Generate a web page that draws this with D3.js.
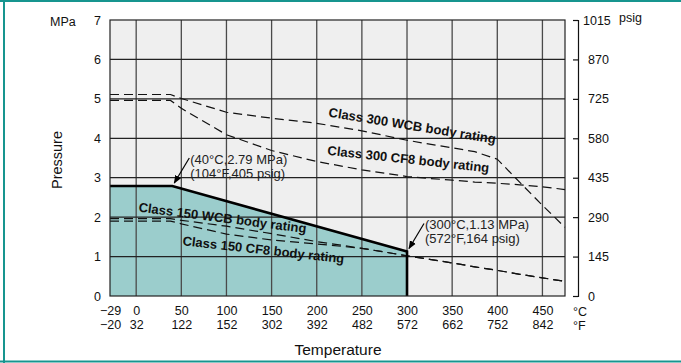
<!DOCTYPE html>
<html><head><meta charset="utf-8">
<script src="https://cdn.jsdelivr.net/npm/d3@7"></script>
<style>
body{margin:0;background:#fff;}
text{font-family:"Liberation Sans",Arial,Helvetica,sans-serif;}
</style></head>
<body>
<svg id="chart" width="681" height="363"></svg>
<script>
// ---- data ----
const tempC = [-29, 38, 50, 100, 150, 200, 250, 300, 325, 350, 375, 400, 425, 450, 475];
const class300WCB = [5.11, 5.11, 5.01, 4.66, 4.51, 4.38, 4.19, 3.95, 3.85, 3.76, 3.66, 3.47, 2.88, 2.30, 1.74];
const class300CF8 = [4.96, 4.96, 4.76, 4.09, 3.69, 3.41, 3.20, 3.03, 2.98, 2.94, 2.89, 2.86, 2.82, 2.77, 2.70];
const class150WCB = [1.96, 1.96, 1.92, 1.77, 1.58, 1.38, 1.21, 1.02, 0.93, 0.84, 0.74, 0.65, 0.55, 0.46, 0.37];
const class150CF8 = [1.90, 1.90, 1.83, 1.57, 1.42, 1.32, 1.21, 1.02, 0.93, 0.84, 0.74, 0.65, 0.55, 0.46, 0.37];
const valveTemp = [-29, 40, 300, 300];
const valveMPa = [2.79, 2.79, 1.13, 0];
const cTicks = [-29, 0, 50, 100, 150, 200, 250, 300, 350, 400, 450];
const fLabels = ["−20", "32", "122", "152", "302", "392", "482", "572", "662", "752", "842"];
const mpaTicks = [0, 1, 2, 3, 4, 5, 6, 7];
const psigTicks = [0, 145, 290, 435, 580, 725, 870, 1015];
const seriesNames = ["Class 300 WCB body rating", "Class 300 CF8 body rating",
                     "Class 150 WCB body rating", "Class 150 CF8 body rating"];
const noteTemps = [40, 300];
const noteMPa = [2.79, 1.13];
const noteTexts = [["(40°C,2.79 MPa)", "(104°F,405 psig)"], ["(300°C,1.13 MPa)", "(572°F,164 psig)"]];

// ---- layout ----
const svg = d3.select("#chart");
const L = 110, R = 565, T = 20, B = 296;
const x = d3.scaleLinear().domain([-29, 475]).range([L, R]);
const y = d3.scaleLinear().domain([0, 7]).range([B, T]);
const yP = d3.scaleLinear().domain([0, 1015]).range([B, T]);
const FONT = "'Liberation Sans',Arial,sans-serif";

// frame
svg.append("line").attr("x1",0).attr("x2",681).attr("y1",1).attr("y2",1).attr("stroke","#17958f").attr("stroke-width",2);
svg.append("line").attr("x1",0).attr("x2",681).attr("y1",361.5).attr("y2",361.5).attr("stroke","#17958f").attr("stroke-width",2);
svg.append("line").attr("x1",4).attr("x2",4).attr("y1",0).attr("y2",363).attr("stroke","#17958f").attr("stroke-width",2);

// plot background
svg.append("rect").attr("x",L).attr("y",T).attr("width",R-L).attr("height",B-T).attr("fill","#efefef");

// filled valve rating area
const area = d3.area().x(d=>x(d[0])).y0(y(0)).y1(d=>y(d[1]));
const valvePts = valveTemp.slice(0,3).map((t,i)=>[t, valveMPa[i]]);
svg.append("path").datum(valvePts).attr("d", area).attr("fill","#9bcdcc");

// grid
svg.append("g").selectAll("line").data(cTicks.filter(t=>t>-29)).join("line")
  .attr("x1",d=>x(d)).attr("x2",d=>x(d)).attr("y1",T).attr("y2",B)
  .attr("stroke","#4a4a4a").attr("stroke-width",1.3);
svg.append("g").selectAll("line").data(mpaTicks.filter(v=>v>0&&v<7)).join("line")
  .attr("x1",L).attr("x2",R).attr("y1",d=>y(d)).attr("y2",d=>y(d))
  .attr("stroke","#222").attr("stroke-width",1.2);

// dashed series
const line = d3.line().x(d=>x(d[0])).y(d=>y(d[1]));
[class300WCB, class300CF8, class150WCB, class150CF8].forEach(s=>{
  svg.append("path").datum(tempC.map((t,i)=>[t,s[i]])).attr("d",line)
    .attr("fill","none").attr("stroke","#111").attr("stroke-width",1.2).attr("stroke-dasharray","9,5");
});

// valve rating bold outline
svg.append("path").datum(valveTemp.map((t,i)=>[t,valveMPa[i]])).attr("d",line)
  .attr("fill","none").attr("stroke","#000").attr("stroke-width",2.6).attr("stroke-linejoin","miter");

// plot border
svg.append("rect").attr("x",L).attr("y",T).attr("width",R-L).attr("height",B-T)
  .attr("fill","none").attr("stroke","#222").attr("stroke-width",1.2);

// left axis
const gl = svg.append("g").attr("transform",`translate(${L},0)`)
  .call(d3.axisLeft(y).tickValues(mpaTicks).tickSize(0).tickPadding(9).tickFormat(d3.format("d")));
gl.select(".domain").remove();
gl.selectAll("text").attr("font-size",12.5).attr("fill","#111").style("font-family",FONT);

// right axis
const gr = svg.append("g").attr("transform","translate(578,0)")
  .call(d3.axisRight(yP).tickValues(psigTicks).tickSize(-5).tickPadding(10).tickFormat(d3.format("d")));
gr.select(".domain").attr("stroke","#111").attr("stroke-width",1.2);
gr.selectAll("line").attr("stroke","#111").attr("stroke-width",1.2);
gr.selectAll("text").attr("font-size",12.5).attr("fill","#111").style("font-family",FONT)
  .attr("dx",d=>d>=1000?-5:0);

// bottom axes (°C and °F)
const gb1 = svg.append("g").attr("transform",`translate(0,${B})`)
  .call(d3.axisBottom(x).tickValues(cTicks).tickSize(0).tickPadding(10)
    .tickFormat(d=>d<0?"−"+Math.abs(d):String(d)));
const gb2 = svg.append("g").attr("transform",`translate(0,${B+14})`)
  .call(d3.axisBottom(x).tickValues(cTicks).tickSize(0).tickPadding(10)
    .tickFormat((d,i)=>fLabels[i]));
[gb1,gb2].forEach(g=>{
  g.select(".domain").remove();
  g.selectAll("text").attr("font-size",12.5).attr("fill","#111").style("font-family",FONT);
});

// unit labels
const txt = (s,xx,yy,opts={})=>svg.append("text").attr("x",xx).attr("y",yy).text(s)
  .attr("font-size",opts.size||12.5).attr("fill","#111").attr("text-anchor",opts.anchor||"start")
  .attr("font-weight",opts.weight||"normal");
txt("MPa",50,26);
txt("psig",619,22);
txt("°C",573,316);
txt("°F",573,330);
txt("Temperature",338,355,{size:15.5,anchor:"middle"});
svg.append("text").attr("transform","translate(62,160) rotate(-90)").attr("text-anchor","middle")
  .attr("font-size",14.5).attr("fill","#111").text("Pressure");

// series labels (anchor in data units + rotation)
const labelPos = [[212.6, 4.55, 9.2], [211.5, 3.58, 6.2], [2.2, 2.14, 7.3], [50.9, 1.29, 6.4]];
seriesNames.forEach((s,i)=>{
  const [t,p,a] = labelPos[i];
  svg.append("text").attr("transform",`translate(${x(t)},${y(p)}) rotate(${a})`)
    .attr("font-size",13).attr("font-weight","bold").attr("fill","#111").text(s);
});

// annotations
const defs = svg.append("defs");
defs.append("marker").attr("id","ah").attr("viewBox","0 0 10 10").attr("refX",9).attr("refY",5)
  .attr("markerWidth",7).attr("markerHeight",7).attr("orient","auto-start-reverse")
  .append("path").attr("d","M0,1 L10,5 L0,9 Z").attr("fill","#000");
noteTemps.forEach((t,k)=>{
  const px = x(t), py = y(noteMPa[k]);
  svg.append("line").attr("x1",px+17).attr("y1",py-28).attr("x2",px+2).attr("y2",py-3)
    .attr("stroke","#000").attr("stroke-width",1.2).attr("marker-end","url(#ah)");
  noteTexts[k].forEach((l,i)=>{
    svg.append("text").attr("x",px+18).attr("y",py-22+i*14).attr("font-size",13).attr("fill","#222").text(l);
  });
});
</script>
</body></html>
